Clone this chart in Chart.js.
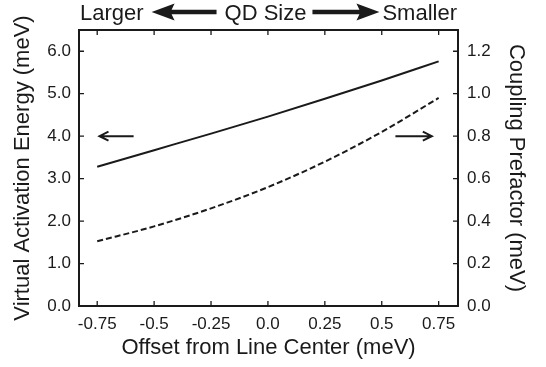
<!DOCTYPE html>
<html>
<head>
<meta charset="utf-8">
<script src="https://cdn.jsdelivr.net/npm/chart.js@4.4.0/dist/chart.umd.min.js"></script>
<style>
  html, body { margin: 0; padding: 0; background: #fff; }
  #wrap { width: 546px; height: 367px; }
</style>
</head>
<body>
<div id="wrap"><canvas id="qdChart"></canvas></div>
<script>
// data
const offsets = [-0.75, -0.5, -0.25, 0, 0.25, 0.5, 0.75];
const activationEnergy = [3.28, 3.67, 4.06, 4.46, 4.88, 5.31, 5.76];   // left axis, solid
const couplingPrefactor = [0.305, 0.375, 0.46, 0.56, 0.68, 0.82, 0.98]; // right axis, dashed

const xTicks = [-0.75, -0.5, -0.25, 0, 0.25, 0.5, 0.75];
const xTickLabels = ["-0.75", "-0.5", "-0.25", "0.0", "0.25", "0.5", "0.75"];
const leftTicks = [0, 1, 2, 3, 4, 5, 6];
const rightTicks = [0, 0.2, 0.4, 0.6, 0.8, 1.0, 1.2];

const headerWords = ["Larger", "QD Size", "Smaller"];
// small arrows telling which axis a curve uses: [x from, x to, y]
const leftArrow = [-0.59, -0.74, 4.0];
const rightArrow = [0.56, 0.72, 0.8];

const ink = "#1a1a1a";
const FONT = "'Liberation Sans', Arial, sans-serif";

function fixTicks(values) {
  return function (scale) {
    scale.ticks = values.map(v => ({ value: v }));
  };
}

function blockArrow(ctx, x1, x2, y, dir) {
  // filled arrow, head at x2
  const head = 20, half = 8.5, shaft = 2.3;
  const hb = x2 - dir * head;
  ctx.beginPath();
  ctx.moveTo(x1, y - shaft);
  ctx.lineTo(hb, y - shaft);
  ctx.lineTo(hb - dir * 3, y - half);
  ctx.lineTo(x2, y);
  ctx.lineTo(hb - dir * 3, y + half);
  ctx.lineTo(hb, y + shaft);
  ctx.lineTo(x1, y + shaft);
  ctx.closePath();
  ctx.fill();
}

function thinArrow(ctx, x1, x2, y) {
  const dir = x2 > x1 ? 1 : -1;
  ctx.beginPath();
  ctx.moveTo(x1, y);
  ctx.lineTo(x2, y);
  ctx.moveTo(x2 - dir * 9, y - 4.5);
  ctx.lineTo(x2, y);
  ctx.lineTo(x2 - dir * 9, y + 4.5);
  ctx.stroke();
}

const decorations = {
  id: "decorations",
  afterDatasetsDraw(chart) {
    const { ctx, chartArea: a, scales } = chart;
    const { x, y, y2 } = scales;
    ctx.save();
    ctx.strokeStyle = ink;
    ctx.fillStyle = ink;

    // frame
    ctx.lineWidth = 2;
    ctx.strokeRect(a.left, a.top, a.right - a.left, a.bottom - a.top);

    // inward tick marks on all four sides
    ctx.lineWidth = 1.3;
    ctx.beginPath();
    xTicks.forEach(v => {
      const px = x.getPixelForValue(v);
      ctx.moveTo(px, a.bottom); ctx.lineTo(px, a.bottom - 5);
      ctx.moveTo(px, a.top); ctx.lineTo(px, a.top + 5);
    });
    leftTicks.forEach(v => {
      const py = y.getPixelForValue(v);
      ctx.moveTo(a.left, py); ctx.lineTo(a.left + 5, py);
    });
    rightTicks.forEach(v => {
      const py = y2.getPixelForValue(v);
      ctx.moveTo(a.right, py); ctx.lineTo(a.right - 5, py);
    });
    ctx.stroke();

    // axis pointer arrows
    ctx.lineWidth = 2;
    thinArrow(ctx, x.getPixelForValue(leftArrow[0]), x.getPixelForValue(leftArrow[1]), y.getPixelForValue(leftArrow[2]));
    thinArrow(ctx, x.getPixelForValue(rightArrow[0]), x.getPixelForValue(rightArrow[1]), y2.getPixelForValue(rightArrow[2]));

    // header: Larger <- QD Size -> Smaller
    ctx.font = "22px " + FONT;
    ctx.textBaseline = "alphabetic";
    ctx.textAlign = "left";
    const hy = 19.5;
    const wL = ctx.measureText(headerWords[0]).width;
    const wM = ctx.measureText(headerWords[1]).width;
    const wR = ctx.measureText(headerWords[2]).width;
    const lx = a.left + 1;
    const mx = (a.left + a.right) / 2 - 3 - wM / 2;
    const rx = a.right - 1 - wR;
    ctx.fillText(headerWords[0], lx, hy);
    ctx.fillText(headerWords[1], mx, hy);
    ctx.fillText(headerWords[2], rx, hy);
    blockArrow(ctx, mx - 8, lx + wL + 8, 12, -1);
    blockArrow(ctx, mx + wM + 6, rx - 3, 12, 1);

    ctx.restore();
  }
};

new Chart(document.getElementById("qdChart"), {
  type: "line",
  data: {
    datasets: [
      {
        label: "Virtual Activation Energy",
        data: offsets.map((v, i) => ({ x: v, y: activationEnergy[i] })),
        yAxisID: "y",
        borderColor: ink,
        borderWidth: 2,
        pointRadius: 0,
        fill: false,
        cubicInterpolationMode: "monotone"
      },
      {
        label: "Coupling Prefactor",
        data: offsets.map((v, i) => ({ x: v, y: couplingPrefactor[i] })),
        yAxisID: "y2",
        borderColor: ink,
        borderWidth: 2,
        borderDash: [6, 3],
        pointRadius: 0,
        fill: false,
        cubicInterpolationMode: "monotone"
      }
    ]
  },
  options: {
    responsive: true,
    maintainAspectRatio: false,
    animation: false,
    layout: { padding: { top: 30, left: 0, right: 0, bottom: 0 } },
    plugins: { legend: { display: false }, tooltip: { enabled: false } },
    scales: {
      x: {
        type: "linear",
        min: -0.83,
        max: 0.835,
        afterBuildTicks: fixTicks(xTicks),
        afterFit: s => { s.height = 61; },
        grid: { display: false, drawTicks: false },
        border: { display: false },
        ticks: {
          autoSkip: false,
          maxRotation: 0,
          padding: 8,
          color: ink,
          font: { family: FONT, size: 17 },
          callback: (v, i) => xTickLabels[i]
        },
        title: {
          display: true,
          text: "Offset from Line Center (meV)",
          color: ink,
          font: { family: FONT, size: 22 },
          padding: { top: 0, bottom: 6 }
        }
      },
      y: {
        position: "left",
        min: 0,
        max: 6.5,
        afterBuildTicks: fixTicks(leftTicks),
        afterFit: s => { s.width = 79; },
        grid: { display: false, drawTicks: false },
        border: { display: false },
        ticks: {
          padding: 8,
          color: ink,
          font: { family: FONT, size: 17 },
          callback: v => v.toFixed(1)
        },
        title: {
          display: true,
          text: "Virtual Activation Energy (meV)",
          color: ink,
          font: { family: FONT, size: 22 },
          padding: { top: 10, bottom: 0 }
        }
      },
      y2: {
        position: "right",
        min: 0,
        max: 1.3,
        afterBuildTicks: fixTicks(rightTicks),
        afterFit: s => { s.width = 88; },
        grid: { display: false, drawTicks: false },
        border: { display: false },
        ticks: {
          padding: 9,
          color: ink,
          font: { family: FONT, size: 17 },
          callback: v => v.toFixed(1)
        },
        title: {
          display: true,
          text: "Coupling Prefactor (meV)",
          color: ink,
          font: { family: FONT, size: 22 },
          padding: { top: 17, bottom: 0 }
        }
      }
    }
  },
  plugins: [decorations]
});
</script>
</body>
</html>
